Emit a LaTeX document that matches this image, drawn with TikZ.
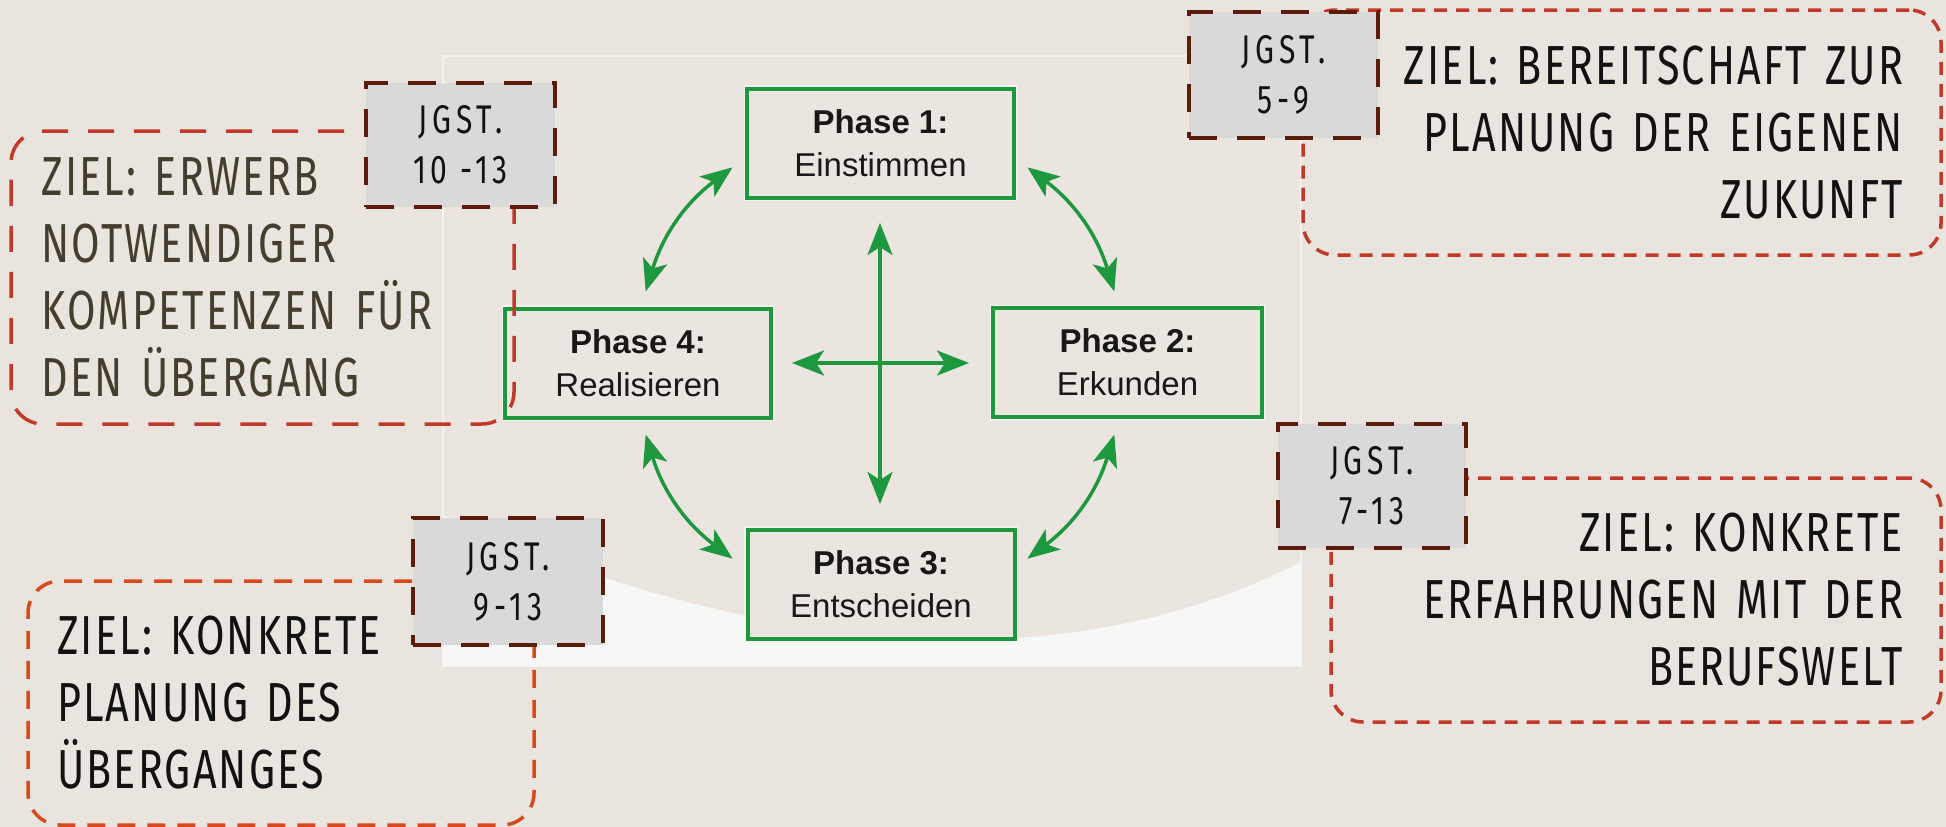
\documentclass[tikz,border=0pt]{standalone}
\usepackage{fontspec}
\setmainfont{Liberation Sans}
\newfontfamily\handfont[FakeStretch=0.75,LetterSpace=4]{Fira Sans}
\newfontfamily\tagfont[FakeStretch=0.75,LetterSpace=12]{Fira Sans}
\usetikzlibrary{arrows.meta}

\definecolor{pagebg}{RGB}{233,229,222}
\definecolor{panelbg}{RGB}{235,229,223}
\definecolor{panelrim}{RGB}{245,242,238}
\definecolor{sheet}{RGB}{247,247,246}
\definecolor{phasegreen}{RGB}{30,152,62}
\definecolor{phasetext}{RGB}{24,24,24}
\definecolor{tagfill}{RGB}{217,217,217}
\definecolor{tagrim}{RGB}{92,28,12}
\definecolor{goalred}{RGB}{192,57,43}
\definecolor{goalorange}{RGB}{214,74,30}
\definecolor{inkolive}{RGB}{68,62,46}
\definecolor{ink}{RGB}{18,18,18}

\tikzset{
  phasebox/.style={draw=phasegreen, line width=4pt, fill=panelbg,
    preaction={draw=white, line width=7pt, opacity=.45},
    minimum width=267pt, minimum height=109pt, inner sep=0pt,
    align=center, text=phasetext, font=\fontsize{33}{43}\selectfont},
  garrow/.style={draw=phasegreen, line width=3.5pt,
    {Stealth[length=32pt,width=25pt,inset=8pt]}-{Stealth[length=32pt,width=25pt,inset=8pt]}},
  goalbox/.style={line width=3.5pt, rounded corners=32pt, inner ysep=0pt,
    font=\handfont\fontsize{55}{67}\selectfont},
  tagbox/.style={draw=tagrim, fill=tagfill, line width=4pt,
    dash pattern=on 28pt off 20pt, inner sep=0pt, align=center, text=ink,
    font=\tagfont\fontsize{40}{50}\selectfont},
}

\begin{document}
\begin{tikzpicture}[x=1pt,y=-1pt]
\useasboundingbox (0,0) rectangle (1946,827);
\fill[pagebg] (0,0) rectangle (1946,827);

% framed panel behind the phase cycle
\draw[panelrim, line width=1.5pt, fill=panelbg] (443,56) rectangle (1301,666);
\fill[sheet] (443,515) .. controls (693,627) and (1021,705) .. (1301,562)
  -- (1301,666) -- (443,666) -- cycle;

% the four phases
\node[phasebox] (p1) at (880.5,143) {\textbf{Phase 1:}\\Einstimmen};
\node[phasebox, minimum width=269pt] (p2) at (1127.5,362.5) {\textbf{Phase 2:}\\Erkunden};
\node[phasebox] (p3) at (881,584) {\textbf{Phase 3:}\\Entscheiden};
\node[phasebox, minimum width=266pt] (p4) at (638,363) {\textbf{Phase 4:}\\Realisieren};

% central cross
\coordinate (vt) at (880,223);
\coordinate (vb) at (880,504);
\coordinate (hl) at (792,363);
\coordinate (hr) at (969,363);
\draw[garrow] (vt) -- (vb);
\draw[garrow] (hl) -- (hr);

% circular links between neighbouring phases (radius 245 around the cross)
\coordinate (tla) at (732.6,167.3);
\coordinate (tlb) at (645.7,291.4);
\coordinate (tra) at (1114.3,291.4);
\coordinate (trb) at (1027.4,167.3);
\coordinate (bla) at (645.7,434.6);
\coordinate (blb) at (732.6,558.7);
\coordinate (bra) at (1027.4,558.7);
\coordinate (brb) at (1114.3,434.6);
\draw[garrow] (tla) to[bend right=18] (tlb);
\draw[garrow] (tra) to[bend right=18] (trb);
\draw[garrow] (bla) to[bend right=18] (blb);
\draw[garrow] (bra) to[bend right=18] (brb);

% goals
\node[goalbox, draw=goalred, dash pattern=on 26pt off 20pt,
  minimum width=503pt, minimum height=293pt, inner xsep=30.5pt,
  text width=442pt, align=left, text=inkolive] (zielA) at (262.5,277.5)
  {ZIEL: ERWERB\\NOTWENDIGER\\KOMPETENZEN FÜR\\DEN ÜBERGANG};
\node[goalbox, draw=goalred, dash pattern=on 13pt off 9pt,
  minimum width=638pt, minimum height=245pt, inner xsep=38pt,
  text width=562pt, align=right, text=ink] (zielB) at (1622,132.5)
  {ZIEL: BEREITSCHAFT ZUR\\PLANUNG DER EIGENEN\\ZUKUNFT};
\node[goalbox, draw=goalred, dash pattern=on 13pt off 9pt,
  minimum width=610pt, minimum height=244pt, inner xsep=38pt,
  text width=534pt, align=right, text=ink] (zielC) at (1636,600)
  {ZIEL: KONKRETE\\ERFAHRUNGEN MIT DER\\BERUFSWELT};
\node[goalbox, draw=goalorange, dash pattern=on 18pt off 12pt,
  minimum width=506pt, minimum height=244pt, inner xsep=29pt,
  text width=448pt, align=left, text=ink] (zielD) at (281,703)
  {ZIEL: KONKRETE\\PLANUNG DES\\ÜBERGANGES};

% grade-level tags
\node[tagbox, minimum width=189pt, minimum height=124pt] (jgA) at (460.5,145) {JGST.\\10 -13};
\node[tagbox, minimum width=189pt, minimum height=126pt] (jgB) at (1283.5,75) {JGST.\\5-9};
\node[tagbox, minimum width=188pt, minimum height=124pt] (jgC) at (1372,486) {JGST.\\7-13};
\node[tagbox, minimum width=190pt, minimum height=127pt] (jgD) at (508,581.5) {JGST.\\9-13};
\end{tikzpicture}
\end{document}
